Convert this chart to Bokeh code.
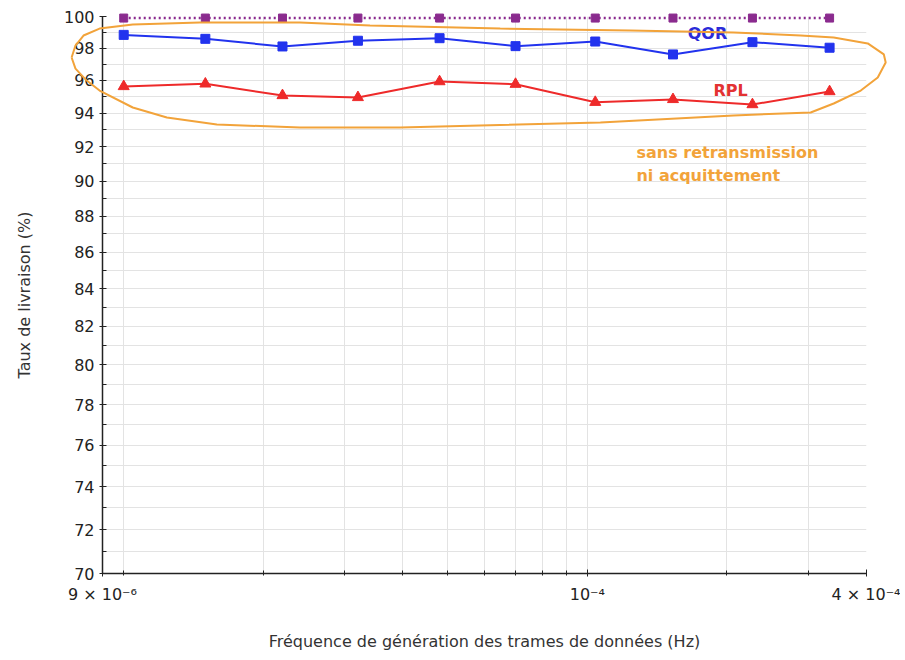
from bokeh.plotting import figure
from bokeh.models import FixedTicker, CustomJSTickFormatter, PrintfTickFormatter, Label
from bokeh.embed import file_html
from bokeh.resources import INLINE

# ---- data ----
freq = [1.0e-5, 1.5e-5, 2.2e-5, 3.2e-5, 4.8e-5, 7.0e-5, 1.04e-4, 1.53e-4, 2.27e-4, 3.33e-4]
avec_retransmission = [99.9, 99.9, 99.9, 99.9, 99.9, 99.9, 99.9, 99.9, 99.9, 99.9]
qor = [98.83, 98.58, 98.10, 98.46, 98.62, 98.12, 98.41, 97.60, 98.37, 98.02]
rpl = [95.62, 95.78, 95.07, 94.95, 95.92, 95.76, 94.66, 94.83, 94.52, 95.31]

y_ticks = [70, 72, 74, 76, 78, 80, 82, 84, 86, 88, 90, 92, 94, 96, 98, 100]
y_minor_ticks = [71, 73, 75, 77, 79, 81, 83, 85, 87, 89, 91, 93, 95, 97, 99]
x_tick_values = [9e-6, 1e-4, 4e-4]
x_tick_labels = ["9 × 10⁻⁶", "10⁻⁴", "4 × 10⁻⁴"]
x_minor_ticks = [1e-5, 2e-5, 3e-5, 4e-5, 5e-5, 6e-5, 7e-5, 8e-5, 9e-5, 2e-4, 3e-4]

# hand-drawn highlight outline (annotation), in data coordinates
outline_x = [7.72e-6, 7.87e-6, 8.19e-6, 8.87e-6, 1.046e-5, 1.459e-5, 2.399e-5, 3.398e-5,
             6.487e-5, 1.238e-4, 2.067e-4, 2.884e-4, 3.399e-4, 4.025e-4, 4.36e-4, 4.40e-4,
             4.23e-4, 3.888e-4, 3.399e-4, 3.031e-4, 2.067e-4, 1.067e-4, 3.946e-5, 2.399e-5,
             1.588e-5, 1.239e-5, 1.046e-5, 8.87e-6, 8.32e-6, 7.87e-6, 7.72e-6]
outline_y = [97.41, 98.16, 98.79, 99.23, 99.49, 99.62, 99.62, 99.42,
             99.23, 99.11, 98.98, 98.79, 98.66, 98.29, 97.60, 97.10,
             96.17, 95.37, 94.58, 94.04, 93.86, 93.44, 93.14, 93.14,
             93.32, 93.74, 94.34, 95.37, 95.98, 96.72, 97.41]

PURPLE = "#8a2b8e"
BLUE = "#2233ee"
RED = "#ee2a2a"
ORANGE = "#f2a33a"
FONT = "DejaVu Sans"

p = figure(width=900, height=658, x_axis_type="log", y_axis_type="log",
           x_range=(9e-6, 4e-4), y_range=(70, 100),
           output_backend="svg", toolbar_location=None,
           min_border_left=102, min_border_right=34, min_border_top=16, min_border_bottom=85)
p.outline_line_color = None
p.background_fill_color = "white"

# grids
for g in (p.xgrid, p.ygrid):
    g.grid_line_color = "#e3e3e3"
    g.grid_line_width = 1
    g.minor_grid_line_color = "#e3e3e3"
    g.minor_grid_line_width = 1

# axes
p.xaxis.ticker = FixedTicker(ticks=x_tick_values, minor_ticks=x_minor_ticks)
p.yaxis.ticker = FixedTicker(ticks=y_ticks, minor_ticks=y_minor_ticks)
p.xaxis.formatter = CustomJSTickFormatter(args=dict(vals=x_tick_values, labs=x_tick_labels), code="""
for (let i = 0; i < vals.length; i++) {
  if (Math.abs(Math.log10(tick) - Math.log10(vals[i])) < 1e-6) return labs[i];
}
return "";
""")
p.yaxis.formatter = PrintfTickFormatter(format="%d")

for ax in (p.xaxis[0], p.yaxis[0]):
    ax.axis_line_color = "#222222"
    ax.axis_line_width = 1.5
    ax.major_tick_line_color = "#222222"
    ax.minor_tick_line_color = "#222222"
    ax.major_tick_in = 4
    ax.major_tick_out = 3
    ax.major_label_text_font = FONT
    ax.major_label_text_font_size = "16px"
    ax.major_label_text_color = "#222222"
    ax.axis_label_text_font = FONT
    ax.axis_label_text_font_size = "16px"
    ax.axis_label_text_font_style = "normal"
    ax.axis_label_text_color = "#333333"

p.xaxis.minor_tick_in = 3
p.xaxis.minor_tick_out = 2
p.yaxis.minor_tick_in = 4
p.yaxis.minor_tick_out = 0
p.xaxis.major_label_standoff = 8
p.yaxis.major_label_standoff = 5
p.xaxis.axis_label_standoff = 25
p.yaxis.axis_label_standoff = 27
p.xaxis.axis_label = "Fréquence de génération des trames de données (Hz)"
p.yaxis.axis_label = "Taux de livraison (%)"

# series
p.line(freq, qor, line_color=BLUE, line_width=2)
p.scatter(freq, qor, marker="square", size=9, fill_color=BLUE, line_color=BLUE)
p.line(freq, rpl, line_color=RED, line_width=2)
p.scatter(freq, rpl, marker="triangle", size=11, fill_color=RED, line_color=RED)
p.line(freq, avec_retransmission, line_color=PURPLE, line_width=2.5, line_dash="2 3", level="overlay")
p.scatter(freq, avec_retransmission, marker="square", size=8, fill_color=PURPLE, line_color=PURPLE,
          level="overlay")

# highlight outline
p.line(outline_x, outline_y, line_color=ORANGE, line_width=2, level="overlay")

# labels
p.add_layout(Label(x=1.816e-4, y=98.92, text="QOR", text_font=FONT, text_font_size="16px",
                   text_font_style="bold", text_color="#2b2bd8", text_align="center",
                   text_baseline="alphabetic"))
p.add_layout(Label(x=2.036e-4, y=95.37, text="RPL", text_font=FONT, text_font_size="16px",
                   text_font_style="bold", text_color="#e33232", text_align="center",
                   text_baseline="alphabetic"))
p.add_layout(Label(x=1.276e-4, y=91.67, text="sans retransmission", text_font=FONT,
                   text_font_size="16px", text_font_style="bold", text_color=ORANGE,
                   text_align="left", text_baseline="alphabetic"))
p.add_layout(Label(x=1.276e-4, y=90.32, text="ni acquittement", text_font=FONT,
                   text_font_size="16px", text_font_style="bold", text_color=ORANGE,
                   text_align="left", text_baseline="alphabetic"))

open("out.html", "w").write(file_html(p, INLINE))
